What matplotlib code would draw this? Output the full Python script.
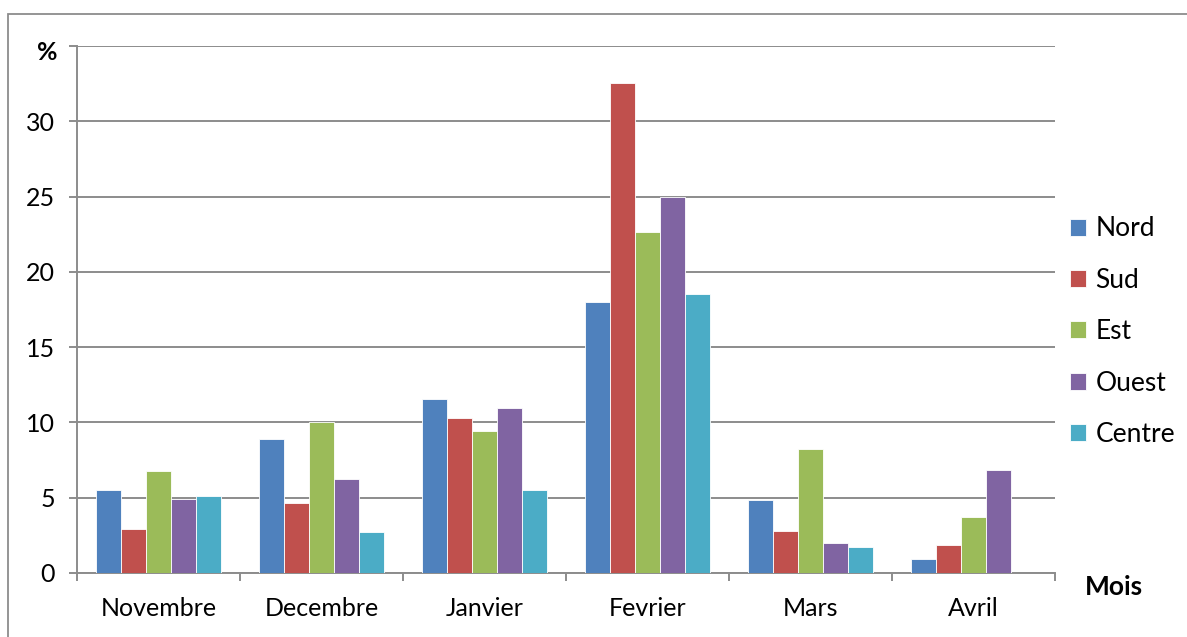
import matplotlib.pyplot as plt
import matplotlib.patches as mpatches
import numpy as np

mois = ["Novembre", "Decembre", "Janvier", "Fevrier", "Mars", "Avril"]
regions = ["Nord", "Sud", "Est", "Ouest", "Centre"]
nord = [5.53, 8.93, 11.53, 18.0, 4.87, 0.91]
sud = [2.95, 4.64, 10.27, 32.55, 2.82, 1.87]
est = [6.75, 10.02, 9.42, 22.62, 8.22, 3.75]
ouest = [4.93, 6.24, 10.93, 24.95, 1.97, 6.84]
centre = [5.13, 2.69, 5.49, 18.5, 1.73, 0.0]
series = [nord, sud, est, ouest, centre]
colors = ["#4f81bd", "#c0504d", "#9bbb59", "#8064a2", "#4bacc6"]
grey = "#8c8c8c"

plt.rcParams['font.family'] = ['Lato', 'DejaVu Sans']

fig = plt.figure(figsize=(11.87, 6.37), dpi=100)
ax = fig.add_axes([77 / 1187, 1 - 573 / 637, (1055 - 77) / 1187, (573 - 46) / 637])

# outer frame (only top and left edges visible)
fig.patches.append(mpatches.Rectangle((8 / 1187, -0.1), 1.2, 1 - 14 / 637 + 0.1,
                                      transform=fig.transFigure, fill=False,
                                      edgecolor=grey, linewidth=1.3))

x = np.arange(len(mois))
w = 0.153
for i, (vals, name) in enumerate(zip(series, regions)):
    ax.bar(x + (i - 2) * w, vals, width=w, color=colors[i], label=name,
           edgecolor="white", linewidth=0.6, zorder=3)

ax.set_xlim(-0.5, len(mois) - 0.5)
ax.set_ylim(0, 35)
ax.set_yticks(range(0, 36, 5))
ax.set_yticklabels([str(v) for v in range(0, 31, 5)] + [""], fontsize=18)
ax.set_xticks(x)
ax.set_xticklabels(mois, fontsize=18)
ax.set_xticks(np.arange(-0.5, len(mois), 1), minor=True)
ax.tick_params(axis="x", which="major", length=0, pad=17)
ax.tick_params(axis="x", which="minor", length=6, color=grey, width=1.4)
ax.tick_params(axis="y", length=6, color=grey, width=1.4, pad=10)

ax.grid(axis="y", color=grey, linewidth=1.4, zorder=0)
for s in ["top", "right"]:
    ax.spines[s].set_visible(False)
for s in ["left", "bottom"]:
    ax.spines[s].set_color(grey)
    ax.spines[s].set_linewidth(1.4)

fig.text(58 / 1187, 1 - 52 / 637, "%", fontsize=18, fontweight="bold",
         ha="right", va="center")
fig.text(1085 / 1187, 1 - 587 / 637, "Mois", fontsize=19, fontweight="bold", va="center")

ax.legend(loc="center left", bbox_to_anchor=(1.0153, 0.458), frameon=False,
          fontsize=19, handlelength=0.62, handleheight=0.62, labelspacing=1.0,
          handletextpad=0.35, borderpad=0, borderaxespad=0)

fig.savefig("out.png", dpi=100)
